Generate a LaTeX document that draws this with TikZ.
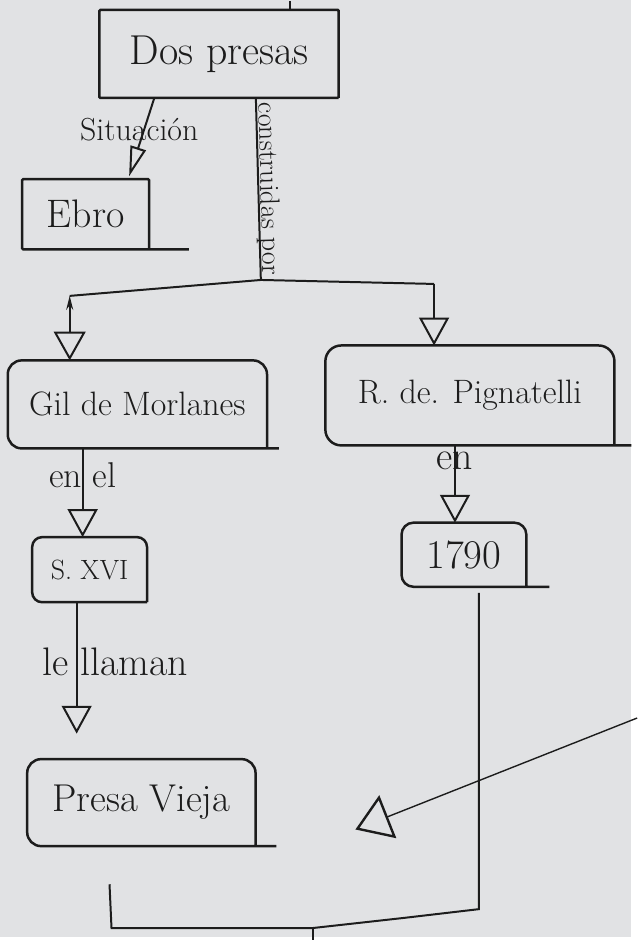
\documentclass[tikz,border=0pt]{standalone}
\usepackage{fontspec}
\usetikzlibrary{arrows.meta}
\definecolor{paper}{RGB}{225,226,228}
\definecolor{ink}{RGB}{28,28,28}
\begin{document}
\begin{tikzpicture}[x=1pt,y=-1pt,>=Stealth,
  box/.style={inner sep=0pt,text=ink,font=\fontsize{34}{40}\selectfont},
  lbl/.style={inner sep=0pt,text=ink,font=\fontsize{36}{40}\selectfont},
  conn/.style={draw=ink,line width=2pt},
  tri/.style={conn,-{Triangle[open,length=28pt,width=30pt]}}]
\fill[paper] (0,0) rectangle (634,941);
\node[box,minimum width=240pt,minimum height=88pt,font=\fontsize{42}{48}\selectfont] (dos) at (220,54) {Dos presas};
\node[box,minimum width=127pt,minimum height=70pt,font=\fontsize{40}{46}\selectfont] (ebro) at (86,215) {Ebro};
\node[box,minimum width=260pt,minimum height=88pt] (gil) at (138,406) {Gil de Morlanes};
\node[box,minimum width=290pt,minimum height=100pt] (pign) at (472,397) {R. de. Pignatelli};
\node[box,minimum width=115pt,minimum height=65pt,font=\fontsize{28}{32}\selectfont] (sxvi) at (90,572) {S. XVI};
\node[box,minimum width=125pt,minimum height=64pt,font=\fontsize{41}{46}\selectfont] (anno) at (466,557) {1790};
\node[box,minimum width=229pt,minimum height=87pt,font=\fontsize{39}{44}\selectfont] (vieja) at (142,806) {Presa Vieja};
\foreach \n/\e/\r in {dos/0/1,ebro/40/1,gil/12/14,pign/17/16,sxvi/0/10,anno/23/12,vieja/21/14}
  \draw[conn,line width=2.5pt,rounded corners=\r pt] (\n.south east) -- (\n.north east) -- (\n.north west) -- (\n.south west) -- ([xshift=\e pt]\n.south east);
\coordinate (j) at (262,281); \coordinate (jl) at (70,297); \coordinate (jr) at (436,285);
\coordinate (br) at (481,913); \coordinate (bk) at (404,922); \coordinate (bm) at (314,932);
\coordinate (bl) at (112,932); \coordinate (bt) at (110,888);
\coordinate (src) at (640,721); \coordinate (tgt) at (357,833);
\draw[tri,-{Triangle[open,length=30pt,width=16pt]}] ([xshift=-65pt]dos.south) -- ([xshift=-20pt,yshift=3pt]ebro.north east) node[lbl,pos=.4,xshift=-5pt,font=\fontsize{32}{36}\selectfont] (lsit) {Situación};
\draw[conn] ([xshift=37pt]dos.south) -- (j) node[lbl,midway,sloped,above=-4pt,font=\fontsize{28}{32}\selectfont] (lcons) {construidas por};
\draw[conn] (jl) -- (j) -- (jr);
\draw[conn,{Stealth[length=14pt,width=7pt]}-{Triangle[open,length=29pt,width=32pt]}] (jl) -- (jl |- gil.north);
\draw[tri] (jr) -- (jr |- pign.north);
\draw[tri] ([xshift=-55pt]gil.south) -- ([xshift=-55pt]gil.south |- sxvi.north) node[lbl,pos=.3] (lenel) {en el};
\draw[tri] ([xshift=-15pt]pign.south) -- ([xshift=-15pt]pign.south |- anno.north) node[lbl,pos=.2,font=\fontsize{40}{44}\selectfont] (len) {en};
\draw[tri] ([xshift=-13pt]sxvi.south) -- ++(0,132) node[lbl,pos=.45,xshift=39pt,font=\fontsize{40}{44}\selectfont] (lllam) {le llaman};
\draw[conn] ([xshift=15pt,yshift=-6pt]anno.south) -- (br) -- (bk) -- (bm) -- (bl) -- (bt);
\draw[conn] (bm) -- ++(0,12);
\draw[conn] ([xshift=71pt]dos.north) -- ++(0,-9);
\draw[conn,line width=1.4pt,-{Triangle[open,length=35pt,width=46pt,line width=2.4pt]}] (src) -- (tgt);
\end{tikzpicture}
\end{document}
